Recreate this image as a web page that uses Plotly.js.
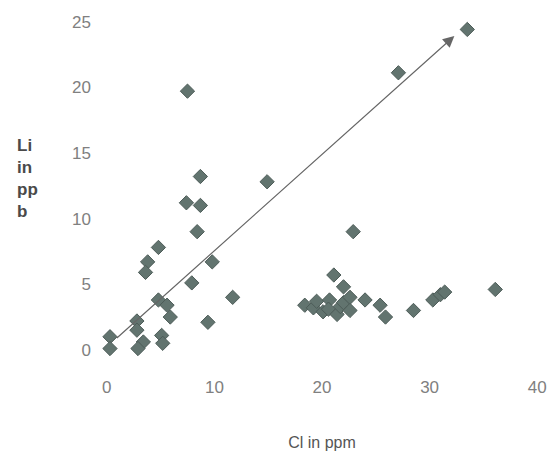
<!DOCTYPE html>
<html>
<head>
<meta charset="utf-8">
<script src="https://cdn.plot.ly/plotly-3.0.1.min.js"></script>
<style>html,body{margin:0;padding:0;background:#fff;}#chart{width:550px;height:457px;}</style>
</head>
<body>
<div id="chart"></div>
<script>
var clValues = [7.5, 33.5, 27.1, 8.7, 14.9, 7.4, 8.7, 8.4, 4.8, 3.8, 3.6, 9.8, 7.9, 11.7, 4.8, 5.6, 5.9, 9.4, 2.8, 2.8, 3.4, 2.9, 5.1, 5.2, 0.3, 0.3,
                22.9, 21.1, 22.0, 18.4, 19.2, 19.5, 20.1, 20.7, 20.6, 21.4, 21.7, 22.0, 22.6, 22.6, 24.0, 25.4, 25.9, 28.5, 30.3, 31.0, 31.4, 36.1];
var liValues = [19.7, 24.4, 21.1, 13.2, 12.8, 11.2, 11.0, 9.0, 7.8, 6.7, 5.9, 6.7, 5.1, 4.0, 3.8, 3.4, 2.5, 2.1, 2.2, 1.5, 0.6, 0.1, 1.1, 0.5, 1.0, 0.1,
                9.0, 5.7, 4.8, 3.4, 3.2, 3.7, 2.9, 3.8, 3.1, 2.7, 3.3, 3.6, 4.0, 3.0, 3.8, 3.4, 2.5, 3.0, 3.8, 4.2, 4.4, 4.6];
var arrowStart = [0.8, 0.8];
var arrowEnd = [32.3, 23.9];
var xTicks = [0, 10, 20, 30, 40];
var yTicks = [0, 5, 10, 15, 20, 25];

var trace = {
  x: clValues, y: liValues, type: 'scatter', mode: 'markers', cliponaxis: false,
  marker: {symbol: 'diamond', size: 11, color: '#62746f', line: {color: '#4d5c58', width: 1}},
  hoverinfo: 'none'
};

var layout = {
  width: 550, height: 457,
  margin: {l: 96, r: 2, t: 15, b: 94},
  paper_bgcolor: '#fff', plot_bgcolor: '#fff',
  showlegend: false,
  font: {family: 'Liberation Sans, Arial, sans-serif', color: '#666'},
  xaxis: {range: [-1, 41], tickvals: xTicks, showgrid: false, zeroline: false, showline: false, ticks: '',
          tickfont: {size: 17, color: '#808080'}, ticklabelstandoff: 12,
          title: {text: 'Cl in ppm', font: {size: 16, color: '#555'}, standoff: 40}},
  yaxis: {range: [-1, 25.5], tickvals: yTicks, showgrid: false, zeroline: false, showline: false, ticks: '',
          tickfont: {size: 17, color: '#808080'}, ticklabelstandoff: 4},
  annotations: [
    {x: arrowEnd[0], y: arrowEnd[1], ax: arrowStart[0], ay: arrowStart[1], xref: 'x', yref: 'y', axref: 'x', ayref: 'y',
     showarrow: true, arrowhead: 2, arrowsize: 1.9, arrowwidth: 1.2, arrowcolor: '#666', text: ''},
    {text: '<b>Li<br>in<br>pp<br>b</b>', xref: 'paper', yref: 'paper', x: -0.18, y: 0.53, xanchor: 'left', yanchor: 'middle',
     align: 'left', showarrow: false, font: {size: 17, color: '#4a4a4a'}}
  ]
};
Plotly.newPlot('chart', [trace], layout, {displayModeBar: false, staticPlot: true});
</script>
</body>
</html>
